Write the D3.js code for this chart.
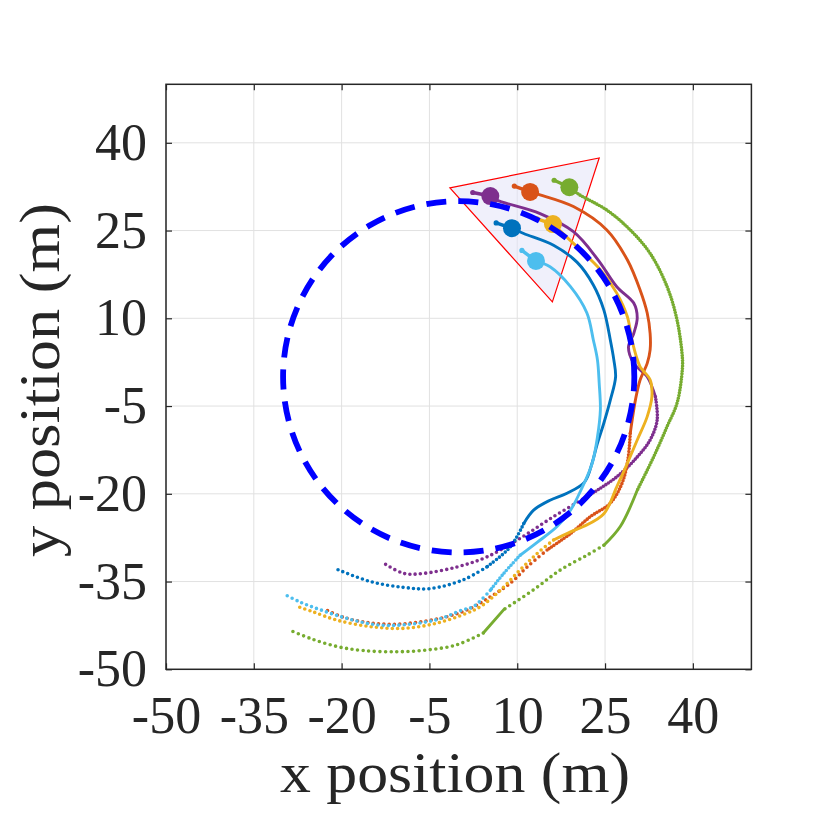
<!DOCTYPE html>
<html>
<head>
<meta charset="utf-8">
<script src="https://cdn.jsdelivr.net/npm/d3@7"></script>
<style>
  body { margin: 0; background: #fff; }
  svg { display: block; font-family: "Liberation Serif", "DejaVu Serif", serif; }
</style>
</head>
<body>
<div id="chart"></div>
<script>
// axis ticks
const xTicks = [-50, -35, -20, -5, 10, 25, 40];
const yTicks = [-50, -35, -20, -5, 10, 25, 40];

// reference circle (centre, radius in metres)
const circleCenter = [0, 0];
const circleRadius = 30;

// formation triangle
const triX = [-1.5, 24.0, 16.0];
const triY = [32.3, 37.4, 12.8];

// robot trajectories (m)
const purpleX = [5.4, 6.5, 13.9, 19.6, 23.8, 27.0, 29.9, 30.5, 29.9, 29.0, 29.9, 32.2, 33.6, 33.9, 32.7, 30.5, 27.0, 21.9, 16.2, 10.5, 4.8, -0.3, -6.0, -9.4, -12.9];
const purpleY = [30.9, 30.2, 27.9, 24.8, 20.0, 15.4, 12.6, 10.1, 7.4, 5.1, 2.3, 0.0, -3.4, -7.4, -10.8, -13.7, -17.1, -20.5, -23.9, -27.6, -30.8, -32.5, -33.6, -33.6, -31.8];

const redX = [12.2, 13.9, 19.6, 25.3, 28.8, 31.0, 32.2, 32.7, 32.7, 32.2, 31.0, 30.2, 29.3, 28.9, 27.9, 25.9, 22.5, 19.1, 15.1, 11.7, 8.8, 5.4, 2.0, -2.0, -6.6, -11.1, -15.7, -19.7, -22.5];
const redY = [31.6, 31.1, 29.1, 25.1, 20.0, 14.8, 10.9, 7.4, 4.6, 2.3, -0.5, -3.9, -9.7, -14.2, -18.2, -21.6, -23.9, -26.8, -29.6, -32.5, -35.3, -37.6, -39.6, -41.0, -41.9, -42.3, -42.0, -41.1, -39.9];

const yellowX = [16.1, 19.6, 24.2, 27.0, 28.8, 29.6, 30.3, 31.0, 32.7, 33.0, 32.2, 30.5, 28.8, 27.0, 24.8, 21.3, 19.1, 16.2, 13.4, 10.5, 7.1, 3.7, 1.4, -3.7, -9.4, -15.1, -20.8, -24.8, -27.4];
const yellowY = [26.1, 22.8, 18.3, 14.3, 10.3, 6.3, 3.6, 1.7, -0.5, -3.4, -6.8, -10.8, -14.8, -18.8, -23.4, -25.6, -26.5, -27.9, -30.2, -33.0, -36.5, -39.3, -40.4, -42.1, -43.0, -42.7, -41.6, -40.2, -39.3];

const greenX = [18.9, 20.5, 25.3, 29.3, 32.7, 35.6, 37.3, 38.2, 38.2, 37.3, 35.6, 33.3, 30.5, 27.6, 24.8, 21.9, 17.4, 12.8, 7.7, 4.2, -0.3, -5.4, -10.6, -16.3, -20.8, -25.4, -29.1];
const greenY = [32.4, 31.2, 28.5, 25.1, 21.1, 15.4, 9.7, 3.4, 1.2, -4.5, -8.5, -13.7, -19.4, -25.6, -28.8, -30.5, -33.0, -36.4, -39.8, -43.8, -45.8, -46.7, -47.0, -46.8, -46.1, -44.7, -43.2];

const blueX = [9.1, 11.1, 16.2, 20.2, 23.0, 24.8, 25.9, 26.5, 26.8, 25.9, 24.8, 23.6, 22.8, 21.5, 18.5, 15.6, 12.8, 11.1, 8.8, 4.8, 0.8, -4.9, -9.4, -15.1, -20.8];
const blueY = [25.4, 24.5, 22.5, 19.6, 15.7, 11.4, 6.3, 2.9, 0.0, -4.0, -7.9, -11.7, -14.7, -18.0, -19.9, -21.1, -22.8, -25.1, -29.1, -32.5, -34.7, -36.2, -36.0, -35.0, -32.9];

const lightBlueX = [13.2, 15.6, 19.1, 21.9, 23.0, 23.7, 24.0, 24.2, 23.7, 22.8, 21.1, 19.1, 16.8, 13.4, 10.5, 7.7, 5.4, 2.5, 0.8, -3.7, -9.4, -14.0, -19.1, -23.7, -27.1, -29.7];
const lightBlueY = [19.8, 18.8, 15.4, 10.9, 6.3, 2.9, -1.1, -5.7, -10.3, -14.8, -18.9, -22.8, -25.6, -28.3, -30.5, -33.6, -36.5, -39.3, -39.8, -41.5, -42.4, -42.4, -41.3, -39.8, -38.5, -37.2];

// heading stub end of each robot marker
const stubX = [2.4, 9.5, 13.4, 16.3, 6.4, 10.8];
const stubY = [31.5, 32.6, 27.0, 33.6, 26.3, 21.6];

const robots = [
    { color: '#7E2F8E', xs: purpleX, ys: purpleY, style: [[0, 0], [12, 3], [17, 5.3]] },
    { color: '#D95319', xs: redX, ys: redY, style: [[0, 0], [12, 3], [18, 5.3]] },
    { color: '#EDB120', xs: yellowX, ys: yellowY, style: [[0, 0], [17, 5.3]] },
    { color: '#77AC30', xs: greenX, ys: greenY, style: [[0, 2.7], [12, 0], [14, 5.6], [18, 0], [19, 5.6]] },
    { color: '#0072BD', xs: blueX, ys: blueY, style: [[0, 0], [17, 3.8], [19, 5.2]] },
    { color: '#4DBEEE', xs: lightBlueX, ys: lightBlueY, style: [[0, 0], [14, 3.4], [16, 5.3]] }
];

const width = 830;
const height = 830;
const plot = { left: 166, right: 751.4, top: 84.3, bottom: 669.3 };

const svg = d3.select('#chart')
    .append('svg')
    .attr('width', width)
    .attr('height', height);

const x = d3.scaleLinear().domain([-50, 50]).range([plot.left, plot.right]);
const y = d3.scaleLinear().domain([-50, 50]).range([plot.bottom, plot.top]);

svg.append('defs').append('clipPath').attr('id', 'clip')
    .append('rect')
    .attr('x', plot.left).attr('y', plot.top)
    .attr('width', plot.right - plot.left).attr('height', plot.bottom - plot.top);

// grid
const grid = svg.append('g').attr('stroke', '#e1e1e1').attr('stroke-width', 1);
grid.selectAll('.gx').data(xTicks).join('line')
    .attr('x1', d => x(d)).attr('x2', d => x(d))
    .attr('y1', plot.top).attr('y2', plot.bottom);
grid.selectAll('.gy').data(yTicks).join('line')
    .attr('y1', d => y(d)).attr('y2', d => y(d))
    .attr('x1', plot.left).attr('x2', plot.right);

const g = svg.append('g').attr('clip-path', 'url(#clip)');

// formation triangle
g.append('polygon')
    .attr('points', triX.map((v, i) => `${x(v)},${y(triY[i])}`).join(' '))
    .attr('fill', '#e4e4f8')
    .attr('fill-opacity', 0.55)
    .attr('stroke', '#ff0000')
    .attr('stroke-width', 1.2);

// trajectories
const line = d3.line().x(d => x(d[0])).y(d => y(d[1])).curve(d3.curveCatmullRom);

robots.forEach(r => {
    const pts = r.xs.map((v, i) => [v, r.ys[i]]);
    r.style.forEach(([start, gap], k) => {
        const end = k + 1 < r.style.length ? r.style[k + 1][0] : pts.length - 1;
        const seg = g.append('path')
            .attr('d', line(pts.slice(start, end + 1)))
            .attr('fill', 'none')
            .attr('stroke', r.color)
            .attr('stroke-linecap', 'round')
            .attr('stroke-linejoin', 'round');
        if (gap > 0) {
            seg.attr('stroke-width', 3.6).attr('stroke-dasharray', `0 ${gap}`);
        } else {
            seg.attr('stroke-width', 2.9);
        }
    });
});

// robot markers
robots.forEach((r, i) => {
    const cx = x(r.xs[0]), cy = y(r.ys[0]);
    g.append('line')
        .attr('x1', cx).attr('y1', cy)
        .attr('x2', x(stubX[i])).attr('y2', y(stubY[i]))
        .attr('stroke', r.color)
        .attr('stroke-width', 3.5)
        .attr('stroke-linecap', 'round');
    g.append('circle')
        .attr('cx', x(stubX[i])).attr('cy', y(stubY[i]))
        .attr('r', 2.6)
        .attr('fill', r.color);
    g.append('circle')
        .attr('cx', cx).attr('cy', cy)
        .attr('r', 9)
        .attr('fill', r.color);
});

// dashed reference circle (counter-clockwise from the rightmost point)
const rPx = x(circleRadius) - x(0);
const cp = d3.path();
cp.moveTo(x(circleCenter[0]) + rPx, y(circleCenter[1]));
cp.arc(x(circleCenter[0]), y(circleCenter[1]), rPx, 0, -2 * Math.PI + 1e-6, true);
g.append('path')
    .attr('d', cp.toString())
    .attr('fill', 'none')
    .attr('stroke', '#0000ff')
    .attr('stroke-width', 5.8)
    .attr('stroke-dasharray', '20 12');

// axes
const fontSize = 52;
const axisColor = '#262626';

const xAxis = svg.append('g')
    .attr('transform', `translate(0,${plot.bottom})`)
    .call(d3.axisBottom(x).tickValues(xTicks).tickFormat(d => String(d))
        .tickSizeInner(-6).tickSizeOuter(0).tickPadding(27));
const yAxis = svg.append('g')
    .attr('transform', `translate(${plot.left},0)`)
    .call(d3.axisLeft(y).tickValues(yTicks).tickFormat(d => String(d))
        .tickSizeInner(-6).tickSizeOuter(0).tickPadding(19));
const xTop = svg.append('g')
    .attr('transform', `translate(0,${plot.top})`)
    .call(d3.axisTop(x).tickValues(xTicks).tickFormat('')
        .tickSizeInner(-6).tickSizeOuter(0));
const yRight = svg.append('g')
    .attr('transform', `translate(${plot.right},0)`)
    .call(d3.axisRight(y).tickValues(yTicks).tickFormat('')
        .tickSizeInner(-6).tickSizeOuter(0));

[xAxis, yAxis, xTop, yRight].forEach(a => {
    a.select('.domain').remove();
    a.selectAll('line').attr('stroke', axisColor).attr('stroke-width', 1.2);
    a.selectAll('text')
        .attr('fill', axisColor)
        .style('font-family', '"Liberation Serif", serif')
        .style('font-size', fontSize + 'px');
});

svg.append('rect')
    .attr('x', plot.left).attr('y', plot.top)
    .attr('width', plot.right - plot.left).attr('height', plot.bottom - plot.top)
    .attr('fill', 'none')
    .attr('stroke', axisColor)
    .attr('stroke-width', 1.5);

// axis labels
svg.append('text')
    .attr('x', 455).attr('y', 792)
    .attr('text-anchor', 'middle')
    .attr('fill', axisColor)
    .attr('textLength', 350)
    .attr('lengthAdjust', 'spacingAndGlyphs')
    .style('font-size', '57px')
    .text('x position (m)');

svg.append('text')
    .attr('transform', 'translate(59,380) rotate(-90)')
    .attr('text-anchor', 'middle')
    .attr('fill', axisColor)
    .attr('textLength', 354)
    .attr('lengthAdjust', 'spacingAndGlyphs')
    .style('font-size', '57px')
    .text('y position (m)');
</script>
</body>
</html>
